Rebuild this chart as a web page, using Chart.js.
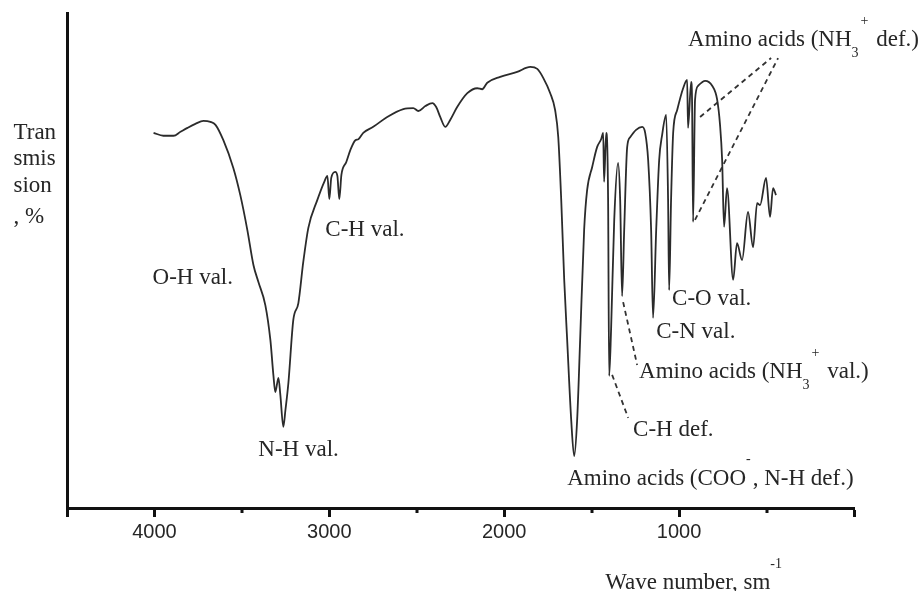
<!DOCTYPE html>
<html>
<head>
<meta charset="utf-8">
<title>IR spectrum</title>
<script src="https://cdn.jsdelivr.net/npm/chart.js@4.4.1/dist/chart.umd.min.js"></script>
<style>
  html, body { margin: 0; padding: 0; background: #fff; }
  #canvas { display: block; }
</style>
</head>
<body>
<canvas id="canvas" width="921" height="591"></canvas>
<script>
// wave numbers, sm-1
var waveNumber = [4005, 3949, 3891, 3851, 3811, 3766, 3720, 3680, 3651, 3606,
    3549, 3509, 3469, 3434, 3406, 3366, 3337, 3320, 3309, 3291,
    3280, 3263, 3251, 3234, 3206, 3177, 3149, 3120, 3069, 3029,
    3011, 3000, 2989, 2966, 2954, 2943, 2931, 2903, 2880, 2851,
    2834, 2806, 2749, 2669, 2577, 2520, 2491, 2451, 2411, 2389,
    2366, 2337, 2309, 2269, 2211, 2154, 2126, 2097, 2023, 1926,
    1851, 1811, 1777, 1737, 1709, 1691, 1674, 1657, 1640, 1617,
    1600, 1583, 1566, 1543, 1526, 1497, 1469, 1446, 1434, 1429,
    1417, 1406, 1400, 1389, 1371, 1349, 1337, 1326, 1314, 1297,
    1280, 1246, 1211, 1194, 1177, 1160, 1149, 1131, 1114, 1097,
    1074, 1063, 1057, 1046, 1034, 1011, 977, 954, 949, 931,
    926, 920, 909, 891, 851, 811, 783, 766, 754, 743,
    726, 691, 669, 640, 606, 577, 554, 537, 503, 480,
    463, 446];

// transmission, %
var transmission = [75.8, 75.2, 75.2, 76.0, 76.8, 77.6, 78.2, 78.0, 77.4, 74.3,
    68.7, 63.2, 56.2, 49.1, 45.7, 41.0, 33.9, 26.9, 23.4, 26.3,
    22.8, 16.4, 19.8, 25.3, 38.0, 41.4, 49.7, 56.6, 62.2, 65.9,
    67.1, 62.4, 66.7, 67.9, 67.1, 62.4, 67.3, 69.9, 72.3, 74.3,
    74.5, 75.8, 77.0, 79.0, 80.6, 80.8, 80.2, 81.2, 81.8, 81.0,
    79.0, 77.0, 78.4, 81.0, 83.8, 84.8, 84.6, 85.9, 87.1, 88.1,
    89.1, 88.7, 86.9, 83.8, 80.4, 74.9, 62.2, 46.1, 33.9, 17.8,
    10.5, 17.8, 33.9, 56.2, 64.2, 68.9, 72.9, 74.5, 75.8, 65.9,
    75.8, 62.2, 26.7, 36.0, 58.2, 69.7, 62.2, 42.8, 56.2, 72.9,
    74.9, 76.4, 77.0, 75.8, 70.3, 56.2, 38.4, 56.2, 70.3, 75.4,
    79.4, 62.2, 44.0, 62.2, 75.8, 80.4, 84.8, 86.5, 76.8, 86.1,
    82.4, 57.8, 82.4, 85.3, 86.3, 85.3, 82.6, 77.4, 70.3, 56.8,
    64.6, 46.1, 53.5, 50.1, 59.8, 52.7, 61.6, 61.2, 66.7, 58.8,
    64.6, 63.2];

// x axis tick labels
var tickLabels = [1000, 2000, 3000, 4000];

// dashed leader lines [wave number, transmission]
var leaderCHdef = [[1383, 26.9], [1291, 18.2]];
var leaderNH3val = [[1320, 41.6], [1240, 28.9]];
var leaderNH3defA = [[880, 79.0], [474, 90.9]];
var leaderNH3defB = [[909, 58.2], [434, 90.9]];

// peak labels: anchor (left edge, middle) in data units, parts = [text, kind]
var peakLabels = [
    { at: [4011, 46.5], parts: [['O-H val.', '']] },
    { at: [3406, 11.7], parts: [['N-H val.', '']] },
    { at: [3023, 56.2], parts: [['C-H val.', '']] },
    { at: [1640, 5.9], parts: [['Amino acids (COO', ''], ['-', 'sup'], [', N-H def.)', '']] },
    { at: [1263, 15.8], parts: [['C-H def.', '']] },
    { at: [1229, 27.5], parts: [['Amino acids (NH', ''], ['3', 'sub'], ['+', 'sup'], [' val.)', '']] },
    { at: [1131, 35.6], parts: [['C-N val.', '']] },
    { at: [1040, 42.2], parts: [['C-O val.', '']] },
    { at: [949, 94.5], parts: [['Amino acids (NH', ''], ['3', 'sub'], ['+', 'sup'], [' def.)', '']] },
    { at: [1423, -15.2], parts: [['Wave number, sm', ''], ['-1', 'sup']] },
    { at: [4806, 75.8], parts: [['Tran', '']] },
    { at: [4806, 70.5], parts: [['smis', '']] },
    { at: [4806, 65.1], parts: [['sion', '']] },
    { at: [4806, 58.8], parts: [[', %', '']] }
];

function isMajor(v) {
    return v % 1000 === 0 || v === 4500;
}

function toPoints(pairs) {
    return pairs.map(function(p) { return { x: p[0], y: p[1] }; });
}

function leader(pairs) {
    return {
        data: toPoints(pairs),
        borderColor: '#333',
        borderWidth: 1.8,
        borderDash: [5, 4],
        pointRadius: 0,
        fill: false
    };
}

var spectrum = [];
for (var i = 0; i < waveNumber.length; i++) {
    spectrum.push({ x: waveNumber[i], y: transmission[i] });
}

var labelPlugin = {
    id: 'spectrumLabels',
    afterDraw: function(chart) {
        var ctx = chart.ctx;
        var xs = chart.scales.x;
        var ys = chart.scales.y;
        var bottom = chart.chartArea.bottom;
        ctx.save();

        // short minor ticks
        ctx.strokeStyle = '#111';
        ctx.lineWidth = 3;
        xs.ticks.forEach(function(t) {
            if (!isMajor(t.value)) {
                var px = Math.round(xs.getPixelForValue(t.value));
                ctx.beginPath();
                ctx.moveTo(px, bottom);
                ctx.lineTo(px, bottom + 5);
                ctx.stroke();
            }
        });

        // annotation text
        ctx.fillStyle = '#262626';
        ctx.textBaseline = 'middle';
        ctx.textAlign = 'left';
        peakLabels.forEach(function(lab) {
            var x = xs.getPixelForValue(lab.at[0]);
            var y = ys.getPixelForValue(lab.at[1]);
            lab.parts.forEach(function(p) {
                var dy = 0;
                if (p[1] === '') {
                    ctx.font = '23px "Liberation Serif"';
                } else {
                    ctx.font = '14px "Liberation Serif"';
                    dy = p[1] === 'sup' ? -19 : 13;
                }
                ctx.fillText(p[0], x, y + dy);
                x += ctx.measureText(p[0]).width + (p[1] === '' ? 0 : 2);
            });
        });
        ctx.restore();
    }
};

var config = {
    type: 'line',
    data: {
        datasets: [{
            label: 'Transmission',
            data: spectrum,
            borderColor: '#2b2b2b',
            borderWidth: 1.8,
            pointRadius: 0,
            fill: false,
            cubicInterpolationMode: 'monotone'
        },
        leader(leaderCHdef),
        leader(leaderNH3val),
        leader(leaderNH3defA),
        leader(leaderNH3defB)]
    },
    options: {
        responsive: false,
        animation: false,
        layout: {
            padding: { top: 13, right: 67, bottom: 0, left: 0 }
        },
        plugins: {
            legend: { display: false },
            title: { display: false },
            tooltip: { enabled: false }
        },
        scales: {
            x: {
                type: 'linear',
                reverse: true,
                min: 0,
                max: 4500,
                afterFit: function(scale) { scale.height = 83; },
                ticks: {
                    stepSize: 500,
                    autoSkip: false,
                    maxRotation: 0,
                    padding: 3,
                    color: '#262626',
                    font: { family: '"Liberation Sans"', size: 20 },
                    callback: function(v) {
                        return tickLabels.indexOf(v) >= 0 ? String(v) : '';
                    }
                },
                grid: {
                    display: true,
                    drawOnChartArea: false,
                    drawTicks: true,
                    tickLength: 9,
                    tickWidth: 3,
                    tickColor: function(c) {
                        return c.tick && isMajor(c.tick.value) ? '#111' : 'rgba(0,0,0,0)';
                    }
                },
                border: { display: true, color: '#111', width: 3 }
            },
            y: {
                min: 0,
                max: 100,
                afterFit: function(scale) { scale.width = 67; },
                ticks: { display: false },
                grid: { display: false, drawTicks: false },
                border: { display: true, color: '#111', width: 3 }
            }
        }
    },
    plugins: [labelPlugin]
};

window.onload = function() {
    var ctx = document.getElementById('canvas').getContext('2d');
    window.myLine = new Chart(ctx, config);
};
</script>
</body>
</html>
